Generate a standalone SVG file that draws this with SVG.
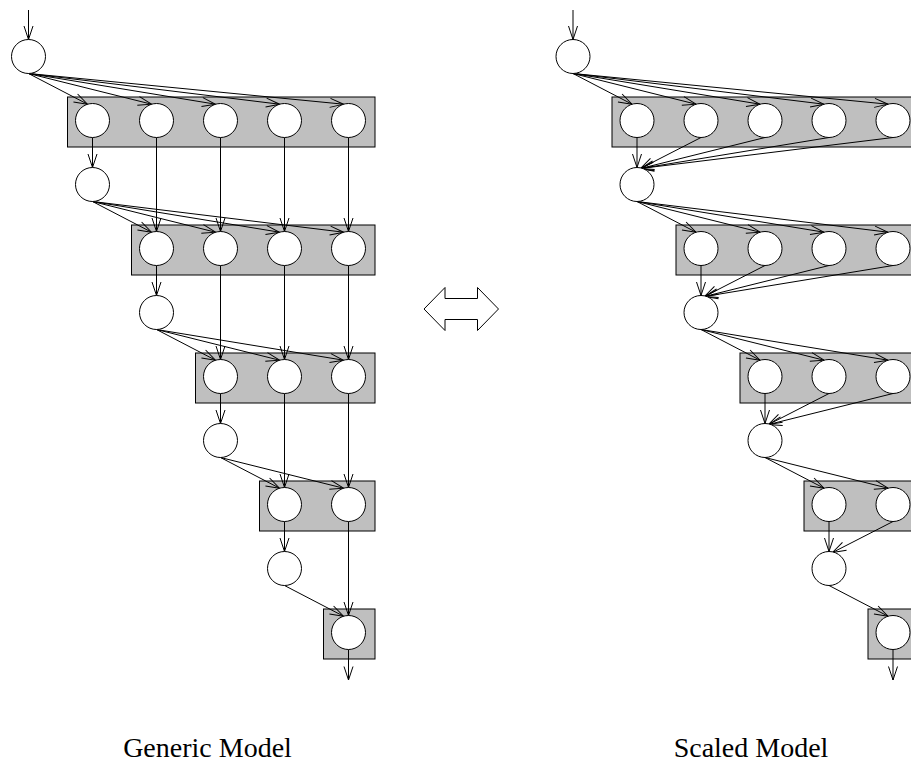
<svg xmlns="http://www.w3.org/2000/svg" width="911" height="762" viewBox="0 0 911 762">
  <style>
    .box { fill: #bfbfbf; stroke: #000; stroke-width: 1; }
    .nd { fill: #fff; stroke: #000; stroke-width: 1; }
    .edge { fill: none; stroke: #000; stroke-width: 1; marker-end: url(#vee); }
    .label { font-family: "Liberation Serif", "Times New Roman", serif; font-size: 28px; fill: #000; text-anchor: middle; }
    .dbl { fill: #fff; stroke: #000; stroke-width: 1; stroke-linejoin: miter; }
  </style>
  <defs>
    <marker id="vee" viewBox="-15 -6 16 12" markerWidth="16" markerHeight="12" refX="0" refY="0" orient="auto" markerUnits="userSpaceOnUse">
      <path d="M-13.5,-4.5 L0,0 L-13.5,4.5" fill="none" stroke="#000" stroke-width="1"/>
    </marker>
  </defs>

  <rect width="911" height="762" fill="#fff"/>

  <!-- ===== Generic model (left) ===== -->
  <g id="generic-boxes">
    <g id="g-box1"><rect class="box" x="67.5" y="97" width="307.5" height="50"/></g>
    <g id="g-box2"><rect class="box" x="131.5" y="225" width="243.5" height="50"/></g>
    <g id="g-box3"><rect class="box" x="195.5" y="353" width="179.5" height="50"/></g>
    <g id="g-box4"><rect class="box" x="259.5" y="481" width="115.5" height="50"/></g>
    <g id="g-box5"><rect class="box" x="323.5" y="609" width="51.5" height="50"/></g>
  </g>

  <g id="generic-connectors">
    <path class="edge" d="M28.5,10 L28.5,39.5"/>
    <!-- fan-out from node 0 -->
    <path class="edge" d="M28.5,73.5 L87.5,104.2"/>
    <path class="edge" d="M28.5,73.5 L151.5,104.2"/>
    <path class="edge" d="M28.5,73.5 L215.5,104.2"/>
    <path class="edge" d="M28.5,73.5 L279.5,104.2"/>
    <path class="edge" d="M28.5,73.5 L343.5,104.2"/>
    <!-- fan-out from node 1 -->
    <path class="edge" d="M92.5,201.5 L151.5,232.2"/>
    <path class="edge" d="M92.5,201.5 L215.5,232.2"/>
    <path class="edge" d="M92.5,201.5 L279.5,232.2"/>
    <path class="edge" d="M92.5,201.5 L343.5,232.2"/>
    <!-- fan-out from node 2 -->
    <path class="edge" d="M156.5,329.5 L215.5,360.2"/>
    <path class="edge" d="M156.5,329.5 L279.5,360.2"/>
    <path class="edge" d="M156.5,329.5 L343.5,360.2"/>
    <!-- fan-out from node 3 -->
    <path class="edge" d="M220.5,457.5 L279.5,488.2"/>
    <path class="edge" d="M220.5,457.5 L343.5,488.2"/>
    <!-- fan-out from node 4 -->
    <path class="edge" d="M284.5,585.5 L343.5,616.2"/>
    <!-- box to next node -->
    <path class="edge" d="M92.5,137.5 L92.5,167.5"/>
    <path class="edge" d="M156.5,265.5 L156.5,295.5"/>
    <path class="edge" d="M220.5,393.5 L220.5,423.5"/>
    <path class="edge" d="M284.5,521.5 L284.5,551.5"/>
    <!-- box to next box -->
    <path class="edge" d="M156.5,137.5 L156.5,231.5"/>
    <path class="edge" d="M220.5,137.5 L220.5,231.5"/>
    <path class="edge" d="M284.5,137.5 L284.5,231.5"/>
    <path class="edge" d="M348.5,137.5 L348.5,231.5"/>
    <path class="edge" d="M220.5,265.5 L220.5,359.5"/>
    <path class="edge" d="M284.5,265.5 L284.5,359.5"/>
    <path class="edge" d="M348.5,265.5 L348.5,359.5"/>
    <path class="edge" d="M284.5,393.5 L284.5,487.5"/>
    <path class="edge" d="M348.5,393.5 L348.5,487.5"/>
    <path class="edge" d="M348.5,521.5 L348.5,615.5"/>
    <!-- output -->
    <path class="edge" d="M348.5,649.5 L348.5,680"/>
  </g>

  <g id="generic-nodes">
    <g id="g-n0"><circle class="nd" cx="28.5" cy="56.5" r="17"/></g>
    <g id="g-n1"><circle class="nd" cx="92.5" cy="184.5" r="17"/></g>
    <g id="g-n2"><circle class="nd" cx="156.5" cy="312.5" r="17"/></g>
    <g id="g-n3"><circle class="nd" cx="220.5" cy="440.5" r="17"/></g>
    <g id="g-n4"><circle class="nd" cx="284.5" cy="568.5" r="17"/></g>
    <g id="g-b1">
      <circle class="nd" cx="92.5" cy="120.5" r="17"/>
      <circle class="nd" cx="156.5" cy="120.5" r="17"/>
      <circle class="nd" cx="220.5" cy="120.5" r="17"/>
      <circle class="nd" cx="284.5" cy="120.5" r="17"/>
      <circle class="nd" cx="348.5" cy="120.5" r="17"/>
    </g>
    <g id="g-b2">
      <circle class="nd" cx="156.5" cy="248.5" r="17"/>
      <circle class="nd" cx="220.5" cy="248.5" r="17"/>
      <circle class="nd" cx="284.5" cy="248.5" r="17"/>
      <circle class="nd" cx="348.5" cy="248.5" r="17"/>
    </g>
    <g id="g-b3">
      <circle class="nd" cx="220.5" cy="376.5" r="17"/>
      <circle class="nd" cx="284.5" cy="376.5" r="17"/>
      <circle class="nd" cx="348.5" cy="376.5" r="17"/>
    </g>
    <g id="g-b4">
      <circle class="nd" cx="284.5" cy="504.5" r="17"/>
      <circle class="nd" cx="348.5" cy="504.5" r="17"/>
    </g>
    <g id="g-b5">
      <circle class="nd" cx="348.5" cy="632.5" r="17"/>
    </g>
  </g>

  <!-- ===== Equivalence arrow ===== -->
  <g id="equiv">
    <polygon class="dbl" points="424,309 445,287.5 445,298.5 477.5,298.5 477.5,287.5 498.5,309 477.5,330.5 477.5,319.5 445,319.5 445,330.5"/>
  </g>

  <!-- ===== Scaled model (right) ===== -->
  <g id="scaled-boxes">
    <g id="s-box1"><rect class="box" x="612" y="97" width="320" height="50"/></g>
    <g id="s-box2"><rect class="box" x="676" y="225" width="256" height="50"/></g>
    <g id="s-box3"><rect class="box" x="740" y="353" width="192" height="50"/></g>
    <g id="s-box4"><rect class="box" x="804" y="481" width="128" height="50"/></g>
    <g id="s-box5"><rect class="box" x="868" y="609" width="64" height="50"/></g>
  </g>

  <g id="scaled-connectors">
    <path class="edge" d="M573,10 L573,39.5"/>
    <!-- fan-out from node 0 -->
    <path class="edge" d="M573,73.5 L632,104.2"/>
    <path class="edge" d="M573,73.5 L696,104.2"/>
    <path class="edge" d="M573,73.5 L760,104.2"/>
    <path class="edge" d="M573,73.5 L824,104.2"/>
    <path class="edge" d="M573,73.5 L888,104.2"/>
    <!-- merge of box 1 into node 1 -->
    <path class="edge" d="M637,137.5 L637,167.5"/>
    <path class="edge" d="M701,137.5 L640.5,168.5"/>
    <path class="edge" d="M765,137.5 L640.5,168.5"/>
    <path class="edge" d="M829,137.5 L640.5,168.5"/>
    <path class="edge" d="M893,137.5 L640.5,168.5"/>
    <!-- fan-out from node 1 -->
    <path class="edge" d="M637,201.5 L696,232.2"/>
    <path class="edge" d="M637,201.5 L760,232.2"/>
    <path class="edge" d="M637,201.5 L824,232.2"/>
    <path class="edge" d="M637,201.5 L888,232.2"/>
    <!-- merge of box 2 into node 2 -->
    <path class="edge" d="M701,265.5 L701,295.5"/>
    <path class="edge" d="M765,265.5 L704.5,296.5"/>
    <path class="edge" d="M829,265.5 L704.5,296.5"/>
    <path class="edge" d="M893,265.5 L704.5,296.5"/>
    <!-- fan-out from node 2 -->
    <path class="edge" d="M701,329.5 L760,360.2"/>
    <path class="edge" d="M701,329.5 L824,360.2"/>
    <path class="edge" d="M701,329.5 L888,360.2"/>
    <!-- merge of box 3 into node 3 -->
    <path class="edge" d="M765,393.5 L765,423.5"/>
    <path class="edge" d="M829,393.5 L768.5,424.5"/>
    <path class="edge" d="M893,393.5 L768.5,424.5"/>
    <!-- fan-out from node 3 -->
    <path class="edge" d="M765,457.5 L824,488.2"/>
    <path class="edge" d="M765,457.5 L888,488.2"/>
    <!-- merge of box 4 into node 4 -->
    <path class="edge" d="M829,521.5 L829,551.5"/>
    <path class="edge" d="M893,521.5 L832.5,552.5"/>
    <!-- fan-out from node 4 -->
    <path class="edge" d="M829,585.5 L888,616.2"/>
    <!-- output -->
    <path class="edge" d="M893,649.5 L893,680"/>
  </g>

  <g id="scaled-nodes">
    <g id="s-n0"><circle class="nd" cx="573" cy="56.5" r="17"/></g>
    <g id="s-n1"><circle class="nd" cx="637" cy="184.5" r="17"/></g>
    <g id="s-n2"><circle class="nd" cx="701" cy="312.5" r="17"/></g>
    <g id="s-n3"><circle class="nd" cx="765" cy="440.5" r="17"/></g>
    <g id="s-n4"><circle class="nd" cx="829" cy="568.5" r="17"/></g>
    <g id="s-b1">
      <circle class="nd" cx="637" cy="120.5" r="17"/>
      <circle class="nd" cx="701" cy="120.5" r="17"/>
      <circle class="nd" cx="765" cy="120.5" r="17"/>
      <circle class="nd" cx="829" cy="120.5" r="17"/>
      <circle class="nd" cx="893" cy="120.5" r="17"/>
    </g>
    <g id="s-b2">
      <circle class="nd" cx="701" cy="248.5" r="17"/>
      <circle class="nd" cx="765" cy="248.5" r="17"/>
      <circle class="nd" cx="829" cy="248.5" r="17"/>
      <circle class="nd" cx="893" cy="248.5" r="17"/>
    </g>
    <g id="s-b3">
      <circle class="nd" cx="765" cy="376.5" r="17"/>
      <circle class="nd" cx="829" cy="376.5" r="17"/>
      <circle class="nd" cx="893" cy="376.5" r="17"/>
    </g>
    <g id="s-b4">
      <circle class="nd" cx="829" cy="504.5" r="17"/>
      <circle class="nd" cx="893" cy="504.5" r="17"/>
    </g>
    <g id="s-b5">
      <circle class="nd" cx="893" cy="632.5" r="17"/>
    </g>
  </g>

  <g id="labels">
    <text class="label" x="207.5" y="757">Generic Model</text>
    <text class="label" x="751" y="757">Scaled Model</text>
  </g>
</svg>
